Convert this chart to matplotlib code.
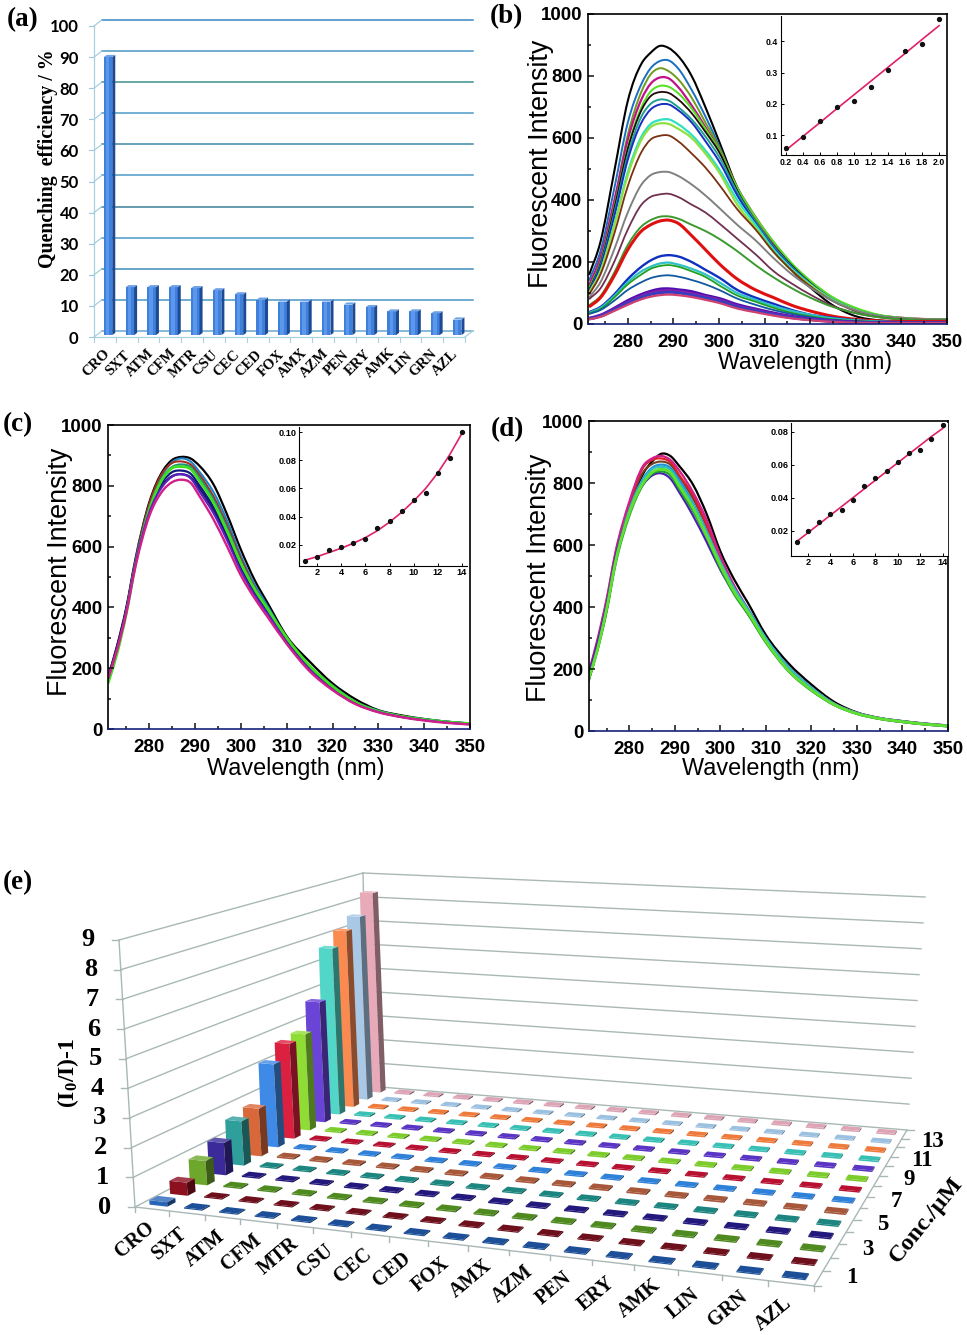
"""Fluorescence quenching figure, panels (a) to (e)."""

import matplotlib
matplotlib.use("Agg")
import matplotlib.pyplot as plt
import numpy as np
from matplotlib.colors import to_rgb
from matplotlib.patches import PathPatch, Polygon
from matplotlib.path import Path

W, H = 967, 1335

plt.rcParams["font.family"] = "Liberation Sans"
plt.rcParams["mathtext.default"] = "regular"

drugs = ["CRO", "SXT", "ATM", "CFM", "MTR", "CSU", "CEC", "CED", "FOX", "AMX",
         "AZM", "PEN", "ERY", "AMK", "LIN", "GRN", "AZL"]

# panel a
quench = [90, 16, 16, 16, 15.7, 15, 13.7, 12, 11.4, 11.4, 11.4, 10.4, 9.6, 8.2, 8.2, 7.6, 5.6]

# panel b
wl_b = [271.5, 274, 277, 280, 283, 285, 287, 289, 291, 294, 297, 300, 304, 308, 312, 316, 320, 325, 330, 335, 340, 345, 350]
b_black = [158, 265, 490, 720, 840, 875, 897, 890, 865, 800, 700, 590, 440, 330, 238, 172, 118, 60, 25, 12, 8, 10, 12]
b_blue = [140, 235, 435, 650, 775, 825, 848, 850, 825, 755, 670, 575, 435, 335, 255, 185, 130, 78, 42, 25, 18, 15, 14]
b_olive = [120, 205, 390, 610, 750, 805, 825, 815, 790, 730, 650, 570, 440, 340, 260, 190, 135, 82, 48, 28, 20, 16, 14]
b_magenta = [125, 215, 395, 595, 725, 775, 795, 792, 765, 705, 635, 560, 440, 345, 262, 192, 137, 82, 48, 28, 20, 16, 14]
b_green = [115, 200, 375, 570, 700, 750, 768, 765, 745, 695, 630, 560, 440, 345, 265, 195, 140, 86, 52, 30, 20, 16, 14]
b_dark = [110, 195, 370, 565, 690, 735, 748, 745, 725, 680, 620, 555, 430, 330, 252, 188, 132, 78, 45, 26, 18, 15, 14]
b_teal = [105, 190, 355, 545, 670, 710, 724, 720, 700, 660, 605, 540, 425, 330, 250, 185, 130, 78, 45, 26, 18, 15, 14]
b_royal = [105, 185, 345, 530, 650, 692, 708, 708, 690, 650, 590, 525, 415, 325, 245, 182, 128, 76, 44, 26, 18, 15, 14]
b_cyan = [100, 170, 320, 490, 605, 645, 658, 660, 645, 610, 560, 500, 400, 320, 240, 178, 128, 78, 45, 26, 18, 15, 14]
b_lime = [100, 170, 315, 480, 595, 635, 647, 645, 630, 600, 550, 490, 385, 310, 232, 172, 125, 75, 44, 25, 18, 15, 14]
b_brown = [95, 160, 290, 445, 555, 595, 607, 608, 590, 550, 505, 450, 370, 305, 232, 172, 122, 74, 42, 25, 18, 15, 14]
b_gray = [85, 135, 240, 360, 450, 480, 490, 490, 478, 450, 415, 375, 320, 270, 212, 160, 118, 74, 44, 26, 18, 15, 14]
b_plum = [80, 115, 200, 305, 385, 410, 418, 420, 410, 385, 360, 325, 275, 225, 170, 130, 95, 58, 35, 22, 15, 12, 12]
b_green2 = [60, 90, 165, 255, 315, 335, 346, 347, 340, 320, 300, 275, 235, 190, 150, 115, 85, 55, 35, 22, 15, 12, 12]
b_red = [55, 85, 155, 240, 300, 320, 332, 335, 325, 285, 240, 195, 145, 110, 85, 60, 42, 25, 15, 10, 8, 8, 8]
b_blue2 = [38, 55, 95, 145, 185, 205, 218, 222, 218, 200, 175, 150, 110, 85, 65, 45, 30, 20, 12, 8, 6, 6, 6]
b_cyan2 = [36, 52, 90, 135, 170, 185, 195, 198, 192, 178, 160, 135, 100, 78, 58, 42, 30, 18, 12, 8, 6, 6, 6]
b_green3 = [34, 48, 85, 128, 160, 178, 187, 190, 185, 170, 152, 125, 92, 72, 52, 36, 25, 15, 10, 7, 5, 5, 5]
b_navy = [32, 45, 75, 110, 135, 148, 155, 157, 153, 142, 128, 110, 82, 62, 45, 32, 22, 13, 8, 6, 5, 5, 5]
b_purple = [18, 28, 50, 75, 95, 105, 112, 113, 110, 104, 92, 82, 62, 48, 35, 24, 16, 10, 6, 4, 3, 3, 3]
b_violet = [17, 26, 47, 70, 90, 100, 106, 108, 105, 98, 88, 78, 58, 45, 32, 22, 15, 9, 5, 4, 3, 3, 3]
b_indigo = [16, 25, 45, 67, 86, 95, 100, 102, 100, 93, 84, 74, 55, 42, 30, 20, 14, 8, 5, 3, 3, 3, 3]
b_pink = [15, 23, 42, 62, 80, 88, 93, 95, 93, 87, 78, 68, 50, 38, 27, 18, 12, 7, 4, 3, 3, 3, 3]

conc_b = [0.2, 0.4, 0.6, 0.8, 1.0, 1.2, 1.4, 1.6, 1.8, 2.0]
inset_b = [0.06, 0.095, 0.147, 0.19, 0.21, 0.255, 0.31, 0.37, 0.393, 0.47]
fit_b = [0.052, 0.096, 0.14, 0.185, 0.229, 0.273, 0.317, 0.361, 0.406, 0.45]

# panels c and d share a wavelength grid
wl_cd = [271, 273, 275, 277, 280, 283, 285, 287, 289, 291, 294, 297, 300, 303, 306, 310, 315, 320, 325, 330, 335, 340, 345, 350]
c_black = [170, 275, 400, 560, 745, 850, 885, 895, 890, 865, 805, 705, 590, 490, 410, 305, 222, 150, 98, 62, 45, 33, 24, 18]
c_blue = [165, 270, 395, 555, 735, 840, 878, 890, 880, 845, 780, 685, 570, 475, 400, 298, 205, 140, 88, 60, 42, 32, 24, 18]
c_brown = [165, 270, 395, 555, 740, 845, 875, 880, 870, 835, 765, 670, 560, 465, 390, 295, 205, 140, 88, 58, 42, 31, 23, 17]
c_teal = [155, 255, 385, 545, 725, 830, 862, 870, 862, 825, 755, 660, 550, 460, 390, 298, 208, 143, 90, 60, 42, 32, 24, 18]
c_navy = [165, 268, 392, 550, 722, 815, 845, 850, 840, 800, 730, 635, 535, 450, 385, 295, 200, 135, 85, 58, 41, 30, 22, 17]
c_navy2 = [168, 270, 392, 548, 715, 805, 832, 838, 828, 790, 720, 628, 528, 445, 380, 290, 198, 132, 84, 57, 40, 30, 22, 17]
c_violet = [165, 265, 388, 545, 712, 800, 830, 838, 825, 780, 710, 620, 520, 440, 375, 285, 195, 130, 83, 56, 40, 29, 21, 15]
c_magenta = [165, 262, 382, 535, 700, 785, 812, 820, 810, 765, 690, 600, 505, 430, 365, 280, 190, 128, 82, 55, 39, 28, 20, 15]
c_lime = [150, 250, 380, 540, 720, 825, 858, 863, 855, 815, 745, 650, 545, 460, 392, 300, 208, 140, 88, 58, 42, 31, 23, 18]

d_black = [160, 265, 390, 550, 715, 830, 870, 895, 888, 855, 795, 700, 580, 490, 415, 310, 218, 150, 94, 60, 42, 32, 24, 18]
d_magenta = [185, 295, 425, 580, 740, 855, 880, 888, 875, 840, 770, 680, 565, 470, 395, 298, 205, 140, 88, 58, 41, 31, 23, 17]
d_red = [180, 290, 420, 575, 730, 850, 875, 880, 868, 825, 760, 665, 555, 465, 392, 296, 205, 140, 88, 58, 41, 31, 23, 17]
d_brown = [170, 280, 410, 565, 725, 835, 862, 870, 860, 820, 750, 660, 550, 462, 392, 296, 204, 140, 88, 58, 41, 31, 23, 17]
d_blue = [170, 278, 405, 560, 715, 815, 850, 860, 850, 810, 735, 645, 545, 462, 395, 300, 206, 140, 88, 58, 41, 31, 23, 17]
d_teal = [172, 278, 405, 558, 712, 810, 845, 853, 843, 800, 730, 640, 545, 460, 392, 298, 205, 140, 88, 58, 41, 31, 23, 17]
d_lime = [165, 265, 395, 550, 705, 800, 835, 845, 835, 790, 720, 630, 535, 450, 385, 290, 195, 133, 85, 56, 40, 30, 22, 16]
d_green = [160, 260, 385, 540, 695, 795, 830, 838, 826, 780, 710, 625, 525, 442, 378, 285, 192, 130, 84, 55, 39, 29, 21, 15]
d_purple = [180, 285, 410, 565, 705, 795, 825, 832, 815, 770, 695, 610, 520, 445, 380, 288, 195, 132, 84, 56, 39, 29, 21, 15]

conc_cd = [1, 2, 3, 4, 5, 6, 7, 8, 9, 10, 11, 12, 13, 14]
inset_c = [0.008, 0.011, 0.016, 0.018, 0.021, 0.024, 0.032, 0.037, 0.044, 0.052, 0.057, 0.071, 0.082, 0.10]
fit_c = [0.009, 0.0115, 0.0145, 0.0175, 0.021, 0.025, 0.030, 0.036, 0.043, 0.051, 0.060, 0.071, 0.084, 0.099]
inset_d = [0.013, 0.020, 0.0255, 0.030, 0.0325, 0.0385, 0.047, 0.052, 0.056, 0.0615, 0.067, 0.069, 0.0755, 0.084]
fit_d = [0.0135, 0.0188, 0.0241, 0.0294, 0.0347, 0.04, 0.0453, 0.0506, 0.0559, 0.0612, 0.0665, 0.0718, 0.0771, 0.082]

# panel e: CRO column by concentration, the other drugs stay near the floor
e_cro = [0.15, 0.45, 0.85, 1.15, 1.6, 1.75, 3.1, 3.6, 3.7, 4.7, 6.6, 7.1, 7.5, 8.3]
e_others = [0.04, 0.04, 0.05, 0.05, 0.05, 0.06, 0.05, 0.05, 0.06, 0.06, 0.06, 0.06, 0.05, 0.06]
e_ticks = [1, 3, 5, 7, 9, 11, 13]

e_colors = ["#2a66b8", "#8c1020", "#6da82c", "#3a2a9a", "#2f9f9c", "#d8683a", "#3f8ae6",
            "#dc2040", "#8fdc34", "#6a44d6", "#52d6c8", "#fb8a50", "#a9c8e6", "#e8aab8"]
e_tile_colors = ["#1c4f98", "#6e0f1c", "#4f8a20", "#23187c", "#1c8580", "#a8583a", "#2f80d8",
                 "#b81030", "#7ccc2c", "#5a34c4", "#38c0b4", "#ee7a3c", "#9cc0e0", "#dca4b4"]


def px_axes(left, top, right, bottom):
    return fig.add_axes([left / W, 1 - bottom / H, (right - left) / W, (bottom - top) / H])


def smooth_line(ax, x, y, color, lw):
    # spline-connected line, same idea as the original plotting software
    x = np.asarray(x, float)
    y = np.asarray(y, float)
    slope = np.gradient(y, x)
    verts = [(x[0], y[0])]
    codes = [Path.MOVETO]
    for k in range(len(x) - 1):
        h = (x[k + 1] - x[k]) / 3
        verts += [(x[k] + h, y[k] + slope[k] * h), (x[k + 1] - h, y[k + 1] - slope[k + 1] * h), (x[k + 1], y[k + 1])]
        codes += [Path.CURVE4] * 3
    ax.add_patch(PathPatch(Path(verts, codes), fill=False, edgecolor=color, lw=lw, joinstyle="round"))


def draw_spectrum(box, x0, wl, curves):
    ax = px_axes(*box)
    for values, color, lw in curves:
        smooth_line(ax, wl, values, color, lw)
    ax.set_xlim(x0, 350)
    ax.set_ylim(0, 1000)
    ax.set_xticks(range(280, 351, 10))
    ax.set_xticks(range(275, 350, 10), minor=True)
    ax.set_yticks(range(0, 1001, 200))
    ax.set_yticks(range(100, 1000, 200), minor=True)
    ax.tick_params(which="both", direction="in", width=1.1, color="#111111")
    ax.tick_params(which="major", length=4)
    ax.tick_params(which="minor", length=2.5)
    ax.tick_params(axis="x", pad=7, labelsize=13.5)
    ax.tick_params(axis="y", pad=4, labelsize=13.5)
    for label in ax.get_xticklabels() + ax.get_yticklabels():
        label.set_fontweight("bold")
    for spine in ax.spines.values():
        spine.set_linewidth(1.2)
    ax.spines["bottom"].set_color("#14237a")
    return ax


def draw_inset(box, xlim, ylim, xticks, yticks, conc, points, fit, fmt, tick_size):
    ax = px_axes(*box)
    ax.plot(conc, fit, color="#e0206a", lw=1.2)
    ax.plot(conc, points, "o", color="#111111", ms=2.8)
    ax.set_xlim(*xlim)
    ax.set_ylim(*ylim)
    ax.set_xticks(xticks)
    ax.set_yticks(yticks)
    ax.xaxis.set_major_formatter(fmt[0])
    ax.yaxis.set_major_formatter(fmt[1])
    ax.tick_params(direction="in", length=2, width=0.7, labelsize=tick_size, pad=2)
    for label in ax.get_xticklabels() + ax.get_yticklabels():
        label.set_fontweight("bold")
    ax.spines["top"].set_visible(False)
    ax.spines["right"].set_visible(False)
    for spine in ax.spines.values():
        spine.set_linewidth(0.8)
    return ax


def homography(corners):
    # unit square to the four corners, order (0,0) (1,0) (1,1) (0,1)
    src = [(0, 0), (1, 0), (1, 1), (0, 1)]
    rows, rhs = [], []
    for (u, v), (x, y) in zip(src, corners):
        rows.append([u, v, 1, 0, 0, 0, -u * x, -v * x])
        rows.append([0, 0, 0, u, v, 1, -u * y, -v * y])
        rhs += [x, y]
    return np.append(np.linalg.solve(np.array(rows, float), np.array(rhs, float)), 1).reshape(3, 3)


floor_h = homography([(135, 1207), (814, 1286), (907, 1130), (368, 1086)])
roof_h = homography([(119, 940), (826, 1018), (925, 897), (363, 873)])


def project(u, v, z=0.0):
    vec = np.array([u, v, 1.0])
    a = floor_h @ vec
    b = roof_h @ vec
    a = a[:2] / a[2]
    b = b[:2] / b[2]
    return a + (b - a) * z / 9.0


def shade(color, amount):
    rgb = np.array(to_rgb(color))
    target = 1.0 if amount > 0 else 0.0
    return tuple(rgb + (target - rgb) * abs(amount))


def draw_bar_3d(ax, i, j, z, color, top_color):
    u0, u1 = (i + 0.24) / 17, (i + 0.76) / 17
    v0, v1 = (j + 0.3) / 14, (j + 0.7) / 14
    faces = [
        ([(u0, v0, 0), (u1, v0, 0), (u1, v0, z), (u0, v0, z)], color),
        ([(u1, v0, 0), (u1, v1, 0), (u1, v1, z), (u1, v0, z)], shade(color, -0.45)),
        ([(u0, v0, z), (u1, v0, z), (u1, v1, z), (u0, v1, z)], top_color),
    ]
    for pts, c in faces:
        ax.add_patch(Polygon([project(*p) for p in pts], closed=True, facecolor=c, edgecolor="none"))


fig = plt.figure(figsize=(W / 100, H / 100), dpi=100)

# overlay in pixel coordinates for panel letters, axis titles and panel e
ov = fig.add_axes([0, 0, 1, 1])
ov.set_xlim(0, W)
ov.set_ylim(H, 0)
ov.axis("off")

for letter, x, y in [("(a)", 7, 20), ("(b)", 490, 17), ("(c)", 3, 425), ("(d)", 491, 430), ("(e)", 3, 883)]:
    ov.text(x, y, letter, family="Liberation Serif", weight="bold", fontsize=19.5, ha="left", va="center")

# panel a
ax_a = px_axes(94, 26, 465, 337)
ax_a.set_xlim(0, 17)
ax_a.set_ylim(0, 100)
ax_a.patch.set_alpha(0)
for s in ax_a.spines.values():
    s.set_visible(False)
dx, dy = 0.36, 1.95
grid_cols = ["#6aa6c8", "#4a96c4", "#3e8db8", "#4c9ac8", "#3c7f96", "#4a9ac8", "#3f8aa8", "#4a9ac8", "#3f8f90", "#4a96c4", "#3a86c2"]
for k, level in enumerate(range(0, 101, 10)):
    ax_a.plot([dx, 17 + dx], [level + dy, level + dy], color=grid_cols[k], lw=1.1, clip_on=False, zorder=1)
    ax_a.plot([0, dx], [level, level + dy], color="#9cc8dc", lw=0.8, clip_on=False, zorder=1)
    ax_a.plot([-0.22, 0], [level, level], color="#9cc8dc", lw=0.8, clip_on=False, zorder=1)
ax_a.plot([0, 0], [0, 100], color="#a8d0e0", lw=0.9, clip_on=False, zorder=1)
ax_a.plot([0, 17], [0, 0], color="#a8d0e0", lw=0.9, clip_on=False, zorder=1)
ax_a.plot([17, 17 + dx], [0, dy], color="#a8d0e0", lw=0.9, clip_on=False, zorder=1)
for i in range(18):
    ax_a.plot([i, i], [0, -1.6], color="#a8d0e0", lw=0.8, clip_on=False, zorder=1)

bar_x = np.arange(len(quench)) + 0.64
bar_w = 0.39
ax_a.bar(bar_x, np.array(quench) - 0.6, bottom=0.6, width=bar_w, color="#3f80dc", zorder=3, clip_on=False)
ax_a.bar(bar_x - 0.02, np.array(quench) - 0.6, bottom=0.6, width=bar_w * 0.4, color="#5b97ea", zorder=3, clip_on=False)
for xc, val in zip(bar_x, quench):
    l, r = xc - bar_w / 2, xc + bar_w / 2
    ax_a.add_patch(Polygon([(r, 0.6), (r + 0.14, 1.3), (r + 0.14, val + 0.7), (r, val)], closed=True,
                           facecolor="#1c4a94", edgecolor="none", zorder=4, clip_on=False))
    ax_a.add_patch(Polygon([(l, val), (r, val), (r + 0.14, val + 0.7), (l + 0.14, val + 0.7)], closed=True,
                           facecolor="#6ea2e6", edgecolor="none", zorder=4, clip_on=False))
ax_a.set_xticks([])
ax_a.set_yticks(range(0, 101, 10))
ax_a.tick_params(axis="y", length=0, pad=11)
ax_a.set_yticklabels([str(v) for v in range(0, 101, 10)], family="Lato", weight="bold", fontsize=12)
for i, name in enumerate(drugs):
    ax_a.text(i + 0.1, -8.4, name, family="Liberation Serif", weight="bold", fontsize=10.5, rotation=45,
              ha="center", va="center", clip_on=False)
ov.text(48, 159, "Quenching  efficiency / %", family="Liberation Serif", weight="bold", fontsize=14.3,
        rotation=90, ha="center", va="center")

# panel b
curves_b = [
    (b_black, "#000000", 1.5), (b_blue, "#1a6fc0", 1.4), (b_olive, "#6f9a20", 1.4), (b_magenta, "#c0108a", 1.6),
    (b_green, "#50e020", 1.4), (b_dark, "#200808", 1.3), (b_teal, "#20a090", 1.4), (b_royal, "#1530c0", 1.4),
    (b_cyan, "#30e0c0", 1.6), (b_lime, "#90e040", 1.6), (b_brown, "#7a3010", 1.3), (b_gray, "#808080", 1.4),
    (b_plum, "#703050", 1.3), (b_green2, "#3a9a30", 1.4), (b_red, "#e01010", 2.2), (b_blue2, "#1030c0", 1.7),
    (b_cyan2, "#30c0c8", 1.6), (b_green3, "#20a020", 1.3), (b_navy, "#1058a0", 1.3), (b_purple, "#5010b0", 2.4),
    (b_violet, "#8020b0", 2.2), (b_indigo, "#3040c0", 2.0), (b_pink, "#d04070", 1.6),
]
draw_spectrum((587.7, 14, 947, 324), 271.2, wl_b, curves_b)
draw_inset((781, 16, 945, 155), (0.145, 2.07), (0.037, 0.481), conc_b, [0.1, 0.2, 0.3, 0.4], conc_b, inset_b, fit_b,
           ("{x:.1f}", "{x:.1f}"), 6.3)
ov.text(864, 171, "Concentration/µM", family="Liberation Serif", fontsize=7.8, ha="center", va="center")
ov.text(759, 72, "(I$_0$/I)-1", family="Liberation Serif", fontsize=8, rotation=90, ha="center", va="center")
ov.text(541, 164, "Fluorescent Intensity", fontsize=19.4, rotation=90, ha="center", va="center")
ov.text(805, 362, "Wavelength (nm)", fontsize=16.6, ha="center", va="center")

# panel c
curves_c = [
    (c_black, "#000000", 1.6), (c_blue, "#2080c8", 1.5), (c_brown, "#a03020", 1.5), (c_navy, "#101880", 1.6),
    (c_navy2, "#181870", 1.6), (c_teal, "#209080", 1.6), (c_lime, "#40e020", 2.0), (c_violet, "#6020c0", 1.5),
    (c_magenta, "#d0208a", 1.7),
]
draw_spectrum((108, 425, 470, 729), 271, wl_cd, curves_c)
draw_inset((299.3, 427, 467, 565.7), (0.5, 14.44), (0.005, 0.1038), conc_cd, [0.02, 0.04, 0.06, 0.08, 0.10], conc_cd,
           inset_c, fit_c, ("{x:.0f}", "{x:.2f}"), 6.6)
ax_c_in = fig.axes[-1]
ax_c_in.set_xticks([2, 4, 6, 8, 10, 12, 14])
ov.text(384, 582, "Concentration/µM", family="Liberation Serif", fontsize=8.2, ha="center", va="center")
ov.text(273, 475, "(I$_0$/I)-1", family="Liberation Serif", fontsize=8, rotation=90, ha="center", va="center")
ov.text(60, 572, "Fluorescent Intensity", fontsize=19.4, rotation=90, ha="center", va="center")
ov.text(296, 769, "Wavelength (nm)", fontsize=16.8, ha="center", va="center")

# panel d
curves_d = [
    (d_black, "#000000", 1.6), (d_brown, "#704020", 1.5), (d_red, "#e02020", 1.6), (d_magenta, "#d0208a", 1.7),
    (d_blue, "#2090d8", 1.6), (d_teal, "#30c0c0", 1.6), (d_purple, "#4a20b0", 1.6), (d_green, "#20a030", 1.6),
    (d_lime, "#60e030", 2.0),
]
draw_spectrum((589.3, 421.3, 948, 731), 271.2, wl_cd, curves_d)
draw_inset((791.3, 423.3, 948.3, 555.7), (0.51, 14.5), (0.00485, 0.0851), conc_cd, [0.02, 0.04, 0.06, 0.08], conc_cd,
           inset_d, fit_d, ("{x:.0f}", "{x:.2f}"), 6.6)
ax_d_in = fig.axes[-1]
ax_d_in.set_xticks([2, 4, 6, 8, 10, 12, 14])
ov.text(867, 573, "Concentration/µM", family="Liberation Serif", fontsize=8.0, ha="center", va="center")
ov.text(766, 464, "(I$_0$/I)-1", family="Liberation Serif", fontsize=8, rotation=90, ha="center", va="center")
ov.text(539, 578, "Fluorescent Intensity", fontsize=19.4, rotation=90, ha="center", va="center")
ov.text(771, 769, "Wavelength (nm)", fontsize=16.8, ha="center", va="center")

# panel e: walls, then bars from back to front
wall = "#a9b8b6"
for k in range(10):
    ov.plot(*zip(project(0, 0, k), project(0, 1, k)), color=wall, lw=1.0, zorder=1)
    ov.plot(*zip(project(0, 1, k), project(1, 1, k)), color=wall, lw=1.0, zorder=1)
    ov.plot(*zip(project(0, 0, k), project(0, 0, k) + np.array([-7, 0])), color=wall, lw=1.0, zorder=1)
    x, y = project(0, 0, k)
    ov.text(x - 24, y, str(k), family="Liberation Serif", weight="bold", fontsize=19, ha="right", va="center")
ov.plot(*zip(project(0, 0), project(0, 0, 9)), color=wall, lw=1.0, zorder=1)
ov.plot(*zip(project(0, 1), project(0, 1, 9)), color=wall, lw=1.0, zorder=1)
ov.plot(*zip(project(0, 0), project(1, 0)), color=wall, lw=1.0, zorder=1)
ov.plot(*zip(project(1, 0), project(1, 1)), color=wall, lw=1.0, zorder=1)
for i in range(18):
    p = project(i / 17, 0)
    ov.plot([p[0], p[0]], [p[1], p[1] + 5], color=wall, lw=1.0, zorder=1)
for j in range(15):
    p = project(1, j / 14)
    ov.plot([p[0], p[0] + 7], [p[1], p[1]], color=wall, lw=1.0, zorder=1)

for j in range(13, -1, -1):
    for i in range(16, 0, -1):
        draw_bar_3d(ov, i, j, e_others[j], e_tile_colors[j], e_tile_colors[j])
    draw_bar_3d(ov, 0, j, e_cro[j], e_colors[j], shade(e_colors[j], 0.2))

for i, name in enumerate(drugs):
    x, y = project((i + 0.5) / 17, 0)
    ov.text(x - 17, y + 31, name, family="Liberation Serif", weight="bold", fontsize=14.4, rotation=40,
            ha="center", va="center")
for t in e_ticks:
    x, y = project(1, (t - 0.5) / 14)
    ov.text(x + 33, y - 1, str(t), family="Liberation Serif", weight="bold", fontsize=16.5, ha="center", va="center")
ov.text(68, 1073, "(I$_0$/I)-1", family="Liberation Serif", weight="bold", fontsize=17, rotation=90,
        ha="center", va="center")
ov.text(926, 1220, "Conc./µM", family="Liberation Serif", weight="bold", fontsize=17.5, rotation=51,
        ha="center", va="center")

fig.savefig("out.png", dpi=100)
